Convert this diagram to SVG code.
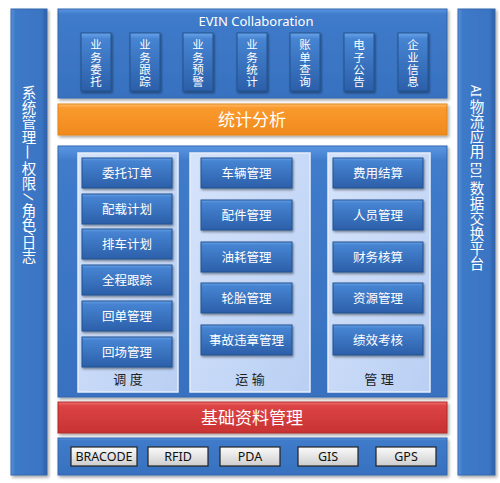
<svg xmlns="http://www.w3.org/2000/svg" width="500" height="483" viewBox="0 0 500 483">
<defs>
<style>
text{font-family:"Noto Sans","Noto Sans CJK SC",sans-serif;}
.w{fill:#fff;}
.vc{font-size:11.5px;fill:#fff;text-anchor:middle;dominant-baseline:central;}
.sc{font-size:14.5px;fill:#fff;text-anchor:middle;dominant-baseline:central;}
.bt{font-size:12.5px;fill:#fff;text-anchor:middle;}
.lb{font-size:13px;fill:#222;text-anchor:middle;}
.gt{font-size:12.5px;fill:#111;text-anchor:middle;}
.panel{fill:url(#gPanel);stroke:#3466ad;stroke-width:1;filter:url(#sh);}
.side{fill:url(#gSide);stroke:#3466ad;stroke-width:1;filter:url(#sh);}
.sub{fill:url(#gSub);stroke:#e6eefc;stroke-width:1.5;}
.btn{fill:url(#gBtn);stroke:#23528f;stroke-width:1;filter:url(#sh2);}
.gbtn{fill:url(#gGray);stroke:#222;stroke-width:1.2;}
</style>
<linearGradient id="gPanel" x1="0" y1="0" x2="0" y2="1">
<stop offset="0" stop-color="#5b97e2"/><stop offset="0.06" stop-color="#3f7bca"/><stop offset="1" stop-color="#3771bf"/>
</linearGradient>
<linearGradient id="gSide" x1="0" y1="0" x2="1" y2="0">
<stop offset="0" stop-color="#5a94dc"/><stop offset="0.12" stop-color="#3e7ac8"/><stop offset="0.85" stop-color="#3a74c2"/><stop offset="1" stop-color="#2d5fa6"/>
</linearGradient>
<linearGradient id="gSub" x1="0" y1="0" x2="1" y2="1">
<stop offset="0" stop-color="#d6e4fb"/><stop offset="1" stop-color="#b9cff3"/>
</linearGradient>
<linearGradient id="gBtn" x1="0" y1="0" x2="0" y2="1">
<stop offset="0" stop-color="#6aa4ea"/><stop offset="0.1" stop-color="#4684d2"/><stop offset="1" stop-color="#2c5fa9"/>
</linearGradient>
<linearGradient id="gOrange" x1="0" y1="0" x2="0" y2="1">
<stop offset="0" stop-color="#ffc070"/><stop offset="0.12" stop-color="#fa9a2e"/><stop offset="1" stop-color="#f08a1c"/>
</linearGradient>
<linearGradient id="gRed" x1="0" y1="0" x2="0" y2="1">
<stop offset="0" stop-color="#f07070"/><stop offset="0.12" stop-color="#dc4444"/><stop offset="1" stop-color="#c83232"/>
</linearGradient>
<linearGradient id="gGray" x1="0" y1="0" x2="0" y2="1">
<stop offset="0" stop-color="#fbfbfb"/><stop offset="1" stop-color="#cdcdcd"/>
</linearGradient>
<filter id="sh" x="-5%" y="-5%" width="115%" height="120%">
<feDropShadow dx="1.5" dy="2" stdDeviation="1.5" flood-color="#000" flood-opacity="0.35"/>
</filter>
<filter id="sh2" x="-10%" y="-10%" width="125%" height="140%">
<feDropShadow dx="1" dy="1.5" stdDeviation="1" flood-color="#000" flood-opacity="0.45"/>
</filter>
</defs>
<rect width="500" height="483" fill="#fff"/>

<g id="sys-left">
<rect class="side" x="11" y="9" width="36" height="466"/>
<text class="sc"><tspan x="29" y="92">系</tspan><tspan x="29" y="107">统</tspan><tspan x="29" y="122">管</tspan><tspan x="29" y="137">理</tspan></text>
<text class="sc" transform="rotate(90 29 152)" x="29" y="152">—</text>
<text class="sc"><tspan x="29" y="168">权</tspan><tspan x="29" y="183">限</tspan></text>
<text class="sc" transform="rotate(103 29 197)" x="29" y="197">/</text>
<text class="sc"><tspan x="29" y="210">角</tspan><tspan x="29" y="224">色</tspan></text>
<text class="sc" transform="rotate(103 29 232)" x="29" y="232">/</text>
<text class="sc"><tspan x="29" y="242">日</tspan><tspan x="29" y="256">志</tspan></text>
</g>
<g id="edi-right">
<rect class="side" x="458" y="9" width="37" height="466"/>
<text class="sc" font-size="13" transform="rotate(90 477 91)" x="477" y="91" textLength="12" lengthAdjust="spacingAndGlyphs">AI</text>
<text class="sc"><tspan x="477" y="106">物</tspan><tspan x="477" y="121">流</tspan><tspan x="477" y="136">应</tspan><tspan x="477" y="151">用</tspan></text>
<text class="sc" font-size="13" transform="rotate(90 477 170)" x="477" y="170" textLength="16" lengthAdjust="spacingAndGlyphs">EDI</text>
<text class="sc"><tspan x="477" y="188">数</tspan><tspan x="477" y="203">据</tspan><tspan x="477" y="218">交</tspan><tspan x="477" y="233">换</tspan><tspan x="477" y="248">平</tspan><tspan x="477" y="263">台</tspan></text>
</g>

<g id="evin">
<rect class="panel" x="58" y="9" width="389" height="89"/>
<text class="w" x="256" y="26" font-size="13" text-anchor="middle">EVIN Collaboration</text>
</g>
<g id="evin-items">
<g id="n-yewuweituo"><rect class="btn" x="81" y="33" width="30" height="58"/>
<text class="vc"><tspan x="96" y="44">业</tspan><tspan x="96" y="56.5">务</tspan><tspan x="96" y="68.5">委</tspan><tspan x="96" y="80.5">托</tspan></text></g>
<g id="n-yewugenzong"><rect class="btn" x="130" y="33" width="30" height="58"/>
<text class="vc"><tspan x="145" y="44">业</tspan><tspan x="145" y="56.5">务</tspan><tspan x="145" y="68.5">跟</tspan><tspan x="145" y="80.5">踪</tspan></text></g>
<g id="n-yewuyujing"><rect class="btn" x="183" y="33" width="30" height="58"/>
<text class="vc"><tspan x="198" y="44">业</tspan><tspan x="198" y="56.5">务</tspan><tspan x="198" y="68.5">预</tspan><tspan x="198" y="80.5">警</tspan></text></g>
<g id="n-yewutongji"><rect class="btn" x="237" y="33" width="30" height="58"/>
<text class="vc"><tspan x="252" y="44">业</tspan><tspan x="252" y="56.5">务</tspan><tspan x="252" y="68.5">统</tspan><tspan x="252" y="80.5">计</tspan></text></g>
<g id="n-zhangdan"><rect class="btn" x="290" y="33" width="30" height="58"/>
<text class="vc"><tspan x="305" y="44">账</tspan><tspan x="305" y="56.5">单</tspan><tspan x="305" y="68.5">查</tspan><tspan x="305" y="80.5">询</tspan></text></g>
<g id="n-dianzi"><rect class="btn" x="344" y="33" width="30" height="58"/>
<text class="vc"><tspan x="359" y="44">电</tspan><tspan x="359" y="56.5">子</tspan><tspan x="359" y="68.5">公</tspan><tspan x="359" y="80.5">告</tspan></text></g>
<g id="n-qiye"><rect class="btn" x="398" y="33" width="30" height="58"/>
<text class="vc"><tspan x="413" y="44">企</tspan><tspan x="413" y="56.5">业</tspan><tspan x="413" y="68.5">信</tspan><tspan x="413" y="80.5">息</tspan></text></g>
</g>

<g id="stats">
<rect x="58" y="104" width="389" height="31" fill="url(#gOrange)" stroke="#e08418" filter="url(#sh)"/>
<text class="w" x="252" y="126" font-size="17" text-anchor="middle">统计分析</text>
</g>

<g id="core">
<rect class="panel" x="58" y="146" width="389" height="251"/>
</g>

<g id="dispatch">
<rect class="sub" x="78" y="153" width="100" height="239"/>
<text class="lb" x="128" y="384">调  度</text>
<g id="n-weituo"><rect class="btn" x="82" y="158" width="90" height="30"/><text class="bt" x="127" y="177.5">委托订单</text></g>
<g id="n-peizai"><rect class="btn" x="82" y="194" width="90" height="30"/><text class="bt" x="127" y="213.5">配载计划</text></g>
<g id="n-paiche"><rect class="btn" x="82" y="229" width="90" height="30"/><text class="bt" x="127" y="248.5">排车计划</text></g>
<g id="n-quancheng"><rect class="btn" x="82" y="265" width="90" height="30"/><text class="bt" x="127" y="284.5">全程跟踪</text></g>
<g id="n-huidan"><rect class="btn" x="82" y="301" width="90" height="30"/><text class="bt" x="127" y="320.5">回单管理</text></g>
<g id="n-huichang"><rect class="btn" x="82" y="337" width="90" height="30"/><text class="bt" x="127" y="356.5">回场管理</text></g>
</g>

<g id="transport">
<rect class="sub" x="190" y="153" width="120" height="239"/>
<text class="lb" x="250" y="384">运  输</text>
<g id="n-cheliang"><rect class="btn" x="201" y="158" width="91" height="30"/><text class="bt" x="246.5" y="177.5">车辆管理</text></g>
<g id="n-peijian"><rect class="btn" x="201" y="200" width="91" height="30"/><text class="bt" x="246.5" y="219.5">配件管理</text></g>
<g id="n-youhao"><rect class="btn" x="201" y="242" width="91" height="30"/><text class="bt" x="246.5" y="261.5">油耗管理</text></g>
<g id="n-luntai"><rect class="btn" x="201" y="283" width="91" height="30"/><text class="bt" x="246.5" y="302.5">轮胎管理</text></g>
<g id="n-shigu"><rect class="btn" x="201" y="325" width="91" height="30"/><text class="bt" x="246.5" y="344.5">事故违章管理</text></g>
</g>

<g id="management">
<rect class="sub" x="328" y="153" width="102" height="239"/>
<text class="lb" x="379" y="384">管  理</text>
<g id="n-feiyong"><rect class="btn" x="333" y="158" width="90" height="30"/><text class="bt" x="378" y="177.5">费用结算</text></g>
<g id="n-renyuan"><rect class="btn" x="333" y="200" width="90" height="30"/><text class="bt" x="378" y="219.5">人员管理</text></g>
<g id="n-caiwu"><rect class="btn" x="333" y="242" width="90" height="30"/><text class="bt" x="378" y="261.5">财务核算</text></g>
<g id="n-ziyuan"><rect class="btn" x="333" y="283" width="90" height="30"/><text class="bt" x="378" y="302.5">资源管理</text></g>
<g id="n-jixiao"><rect class="btn" x="333" y="325" width="90" height="30"/><text class="bt" x="378" y="344.5">绩效考核</text></g>
</g>

<g id="basic">
<rect x="58" y="402" width="389" height="31" fill="url(#gRed)" stroke="#b02828" filter="url(#sh)"/>
<text class="w" x="252" y="424" font-size="17" text-anchor="middle">基础资料管理</text>
</g>

<g id="devices">
<rect class="panel" x="58" y="438" width="389" height="37"/>
<g id="n-bracode"><rect class="gbtn" x="71" y="447" width="66" height="19"/><text class="gt" x="104" y="461">BRACODE</text></g>
<g id="n-rfid"><rect class="gbtn" x="148" y="447" width="60" height="19"/><text class="gt" x="178" y="461">RFID</text></g>
<g id="n-pda"><rect class="gbtn" x="220" y="447" width="60" height="19"/><text class="gt" x="250" y="461">PDA</text></g>
<g id="n-gis"><rect class="gbtn" x="298" y="447" width="60" height="19"/><text class="gt" x="328" y="461">GIS</text></g>
<g id="n-gps"><rect class="gbtn" x="376" y="447" width="60" height="19"/><text class="gt" x="406" y="461">GPS</text></g>
</g>
</svg>
